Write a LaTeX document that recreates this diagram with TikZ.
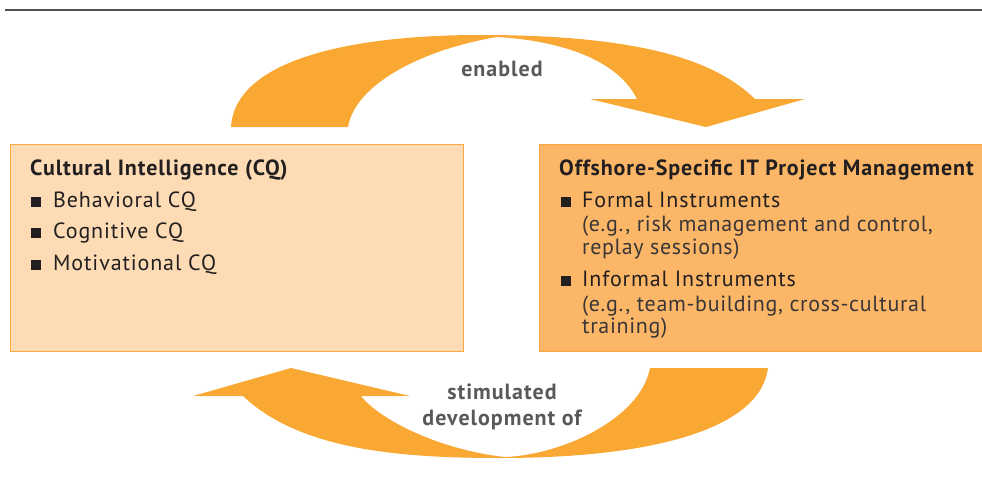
\documentclass[tikz,border=0pt]{standalone}
\usepackage{fontspec}
\setmainfont{PT Sans}
\newfontfamily\wideA[LetterSpace=4]{PT Sans}
\newfontfamily\wideB[LetterSpace=3]{PT Sans}
\newfontfamily\wideC[LetterSpace=4.5]{PT Sans}
\definecolor{arrowor}{HTML}{F9A834}
\definecolor{lightfill}{HTML}{FDDCB5}
\definecolor{darkfill}{HTML}{FBB767}
\definecolor{boxline}{HTML}{F9A843}
\definecolor{lblgray}{HTML}{58595B}
\definecolor{txt}{HTML}{231F20}
\definecolor{subtxt}{HTML}{3A3536}
\begin{document}
\begin{tikzpicture}[x=1pt,y=-1pt,
  title/.style={anchor=base west,inner sep=0pt,font=\wideA\fontsize{22}{24}\selectfont\bfseries,text=txt},
  item/.style={anchor=base west,inner sep=0pt,font=\wideA\fontsize{22}{24}\selectfont,text=txt},
  subitem/.style={anchor=base west,inner sep=0pt,font=\wideB\fontsize{22}{24}\selectfont,text=subtxt},
  bul/.style={fill=txt,inner sep=0pt,minimum size=10pt,anchor=south west},
  lbl/.style={inner sep=0pt,font=\wideC\fontsize{22}{26}\selectfont\bfseries,text=lblgray,align=center},
  arrowshape/.style={fill=arrowor,draw=none}]
\useasboundingbox (0,0) rectangle (982,477);
% top rule
\draw[lblgray!90!black,line width=2.5pt] (5,10) -- (982,10);
% boxes
\node[draw=boxline,fill=lightfill,line width=1pt,minimum width=453pt,minimum height=207pt,anchor=north west,inner sep=0pt] (cq) at (10,144) {};
\node[draw=boxline,fill=darkfill,line width=1pt,minimum width=450pt,minimum height=207pt,anchor=north west,inner sep=0pt] (pm) at (539,144) {};
% top arrow
\fill[arrowshape] (231,127) .. controls (235,60) and (350,35) .. (480,35)
  .. controls (640,35) and (715,60) .. (755,99) -- (805,99) -- (706,127) -- (590,99) -- (637,99)
  .. controls (615,55) and (550,40) .. (497,37) .. controls (420,50) and (355,85) .. (348,127) -- cycle;
% bottom arrow
\fill[arrowshape] (243,396) .. controls (300,450) and (400,458) .. (500,458)
  .. controls (650,458) and (760,430) .. (768,368) -- (650,368)
  .. controls (640,420) and (560,455) .. (505,457) .. controls (440,450) and (380,420) .. (361,396)
  -- (410,396) -- (291,368) -- (193,396) -- cycle;
% labels
\node[lbl] (en) at (502,69) {enabled};
\node[lbl] (st) at (502,407) {stimulated\\development of};
% left box text
\node[title] (t1) at (30,175) {Cultural Intelligence (CQ)};
\node[bul] (b1) at (31,207) {};
\node[item] (i1) at (53,207) {Behavioral CQ};
\node[bul] (b2) at (31,238) {};
\node[item] (i2) at (53,238) {Cognitive CQ};
\node[bul] (b3) at (31,270) {};
\node[item] (i3) at (53,270) {Motivational CQ};
% right box text
\node[title] (t2) at (559,175) {Offshore-Specific IT Project Management};
\node[bul] (b4) at (561,207) {};
\node[item] (i4) at (582,207) {Formal Instruments};
\node[subitem] (s4a) at (582,231) {(e.g., risk management and control,};
\node[subitem] (s4b) at (582,254) {replay sessions)};
\node[bul] (b5) at (561,286) {};
\node[item] (i5) at (582,286) {Informal Instruments};
\node[subitem] (s5a) at (582,311) {(e.g., team-building, cross-cultural};
\node[subitem] (s5b) at (582,333) {training)};
\end{tikzpicture}
\end{document}
